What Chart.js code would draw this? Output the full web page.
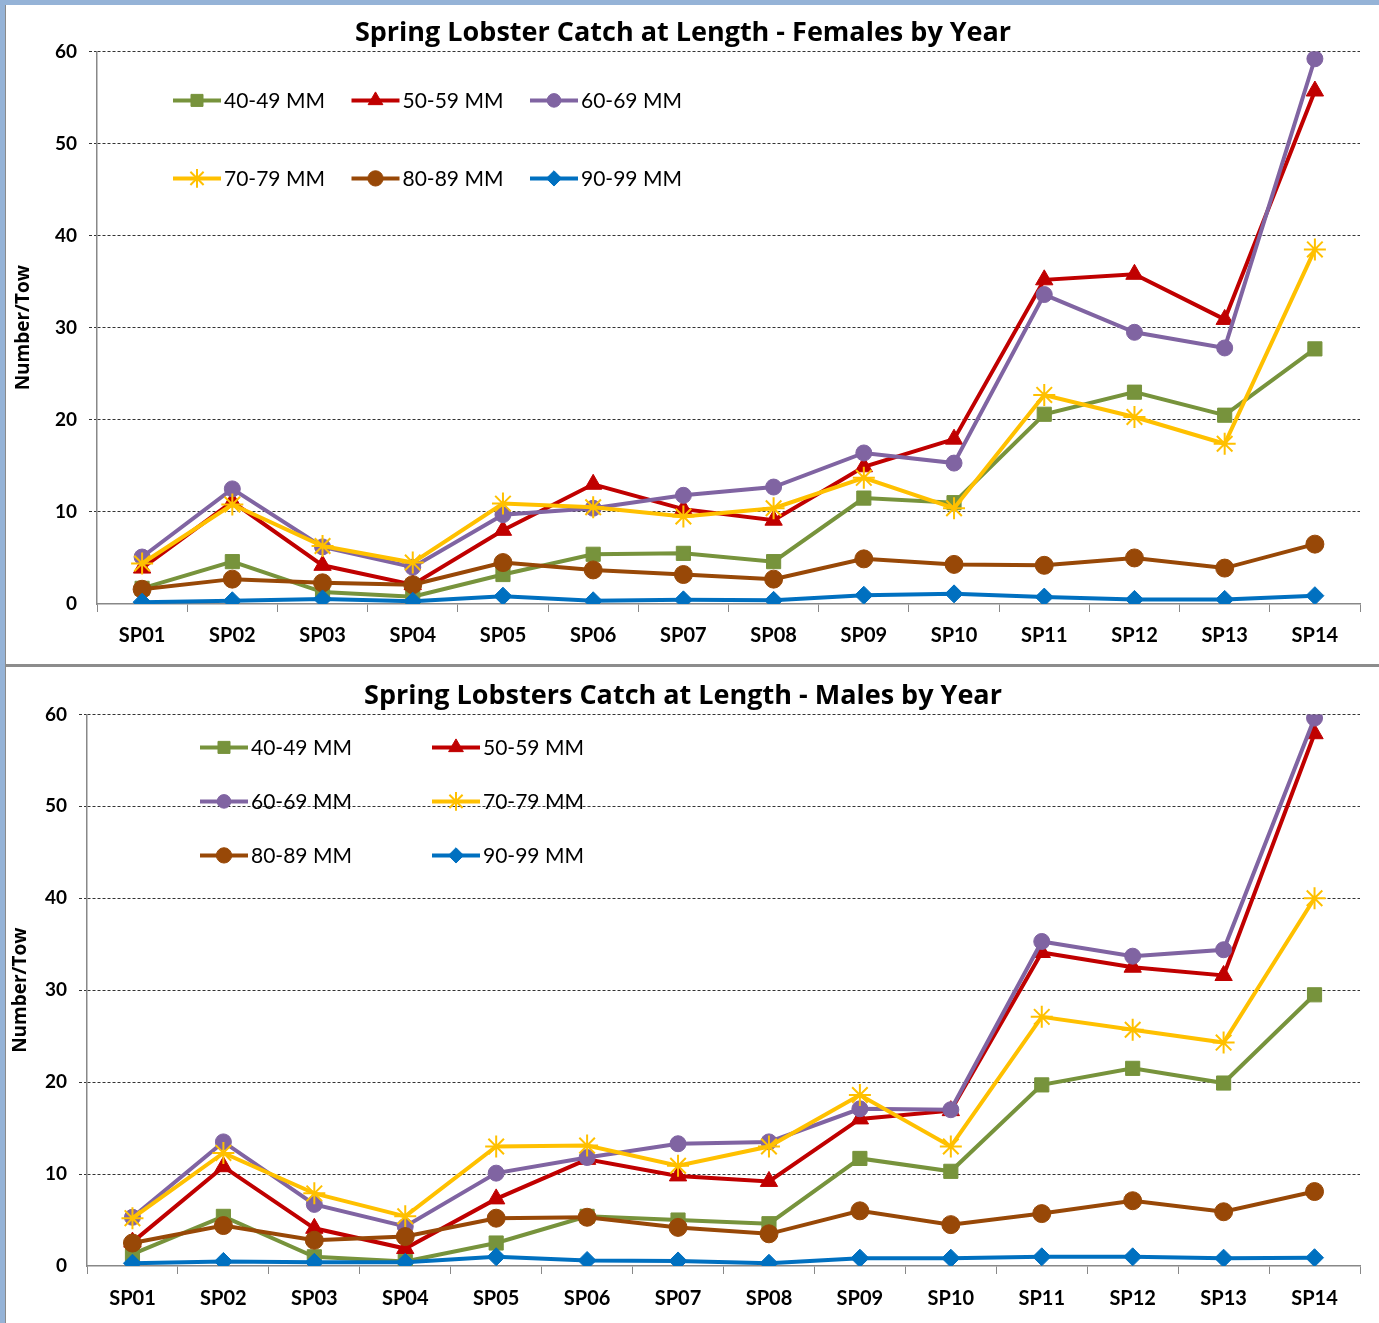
<!DOCTYPE html>
<html>
<head>
<meta charset="utf-8">
<script src="https://cdn.jsdelivr.net/npm/chart.js@4/dist/chart.umd.min.js"></script>
<style>
  html, body { margin: 0; padding: 0; }
  body { width: 1379px; height: 1323px; background: #95b3d7; position: relative; overflow: hidden; }
  .panel { position: absolute; left: 5px; width: 1374px; background: #fff; border-left: 1px solid #8a8a8a; box-sizing: border-box; }
  #top { top: 5px; height: 659px; }
  #sep { position: absolute; left: 5px; top: 664px; width: 1374px; height: 3px; background: #8c8c8c; }
  #bottom { top: 667px; height: 656px; }
  canvas { display: block; }
</style>
</head>
<body>
<div class="panel" id="top"><canvas id="females" width="1373" height="659"></canvas></div>
<div id="sep"></div>
<div class="panel" id="bottom"><canvas id="males" width="1373" height="656"></canvas></div>
<script>
// survey years on the x axis
var years = ['SP01','SP02','SP03','SP04','SP05','SP06','SP07','SP08','SP09','SP10','SP11','SP12','SP13','SP14'];
var sizeClasses = ['40-49 MM','50-59 MM','60-69 MM','70-79 MM','80-89 MM','90-99 MM'];
var yTicks = [0, 10, 20, 30, 40, 50, 60];

// females, number per tow
var fem40 = [1.7, 4.6, 1.3, 0.8, 3.2, 5.4, 5.5, 4.6, 11.5, 11.0, 20.6, 23.0, 20.5, 27.7];
var fem50 = [3.9, 11.1, 4.2, 2.1, 8.0, 13.0, 10.3, 9.1, 14.9, 17.9, 35.2, 35.8, 30.9, 55.7];
var fem60 = [5.1, 12.5, 6.2, 4.0, 9.7, 10.4, 11.8, 12.7, 16.4, 15.3, 33.6, 29.5, 27.8, 59.2];
var fem70 = [4.4, 10.8, 6.3, 4.5, 10.9, 10.5, 9.5, 10.4, 13.7, 10.4, 22.7, 20.3, 17.4, 38.5];
var fem80 = [1.6, 2.7, 2.3, 2.1, 4.5, 3.7, 3.2, 2.7, 4.9, 4.3, 4.2, 5.0, 3.9, 6.5];
var fem90 = [0.2, 0.35, 0.55, 0.3, 0.85, 0.35, 0.45, 0.4, 0.95, 1.1, 0.75, 0.5, 0.5, 0.9];

// males, number per tow
var mal40 = [1.3, 5.4, 1.0, 0.5, 2.5, 5.4, 5.0, 4.6, 11.7, 10.3, 19.7, 21.5, 19.9, 29.5];
var mal50 = [2.6, 10.8, 4.1, 1.9, 7.3, 11.6, 9.8, 9.2, 16.0, 16.9, 34.1, 32.5, 31.6, 57.9];
var mal60 = [5.3, 13.5, 6.7, 4.3, 10.1, 11.8, 13.3, 13.5, 17.1, 17.0, 35.3, 33.7, 34.4, 59.6];
var mal70 = [5.2, 12.3, 7.9, 5.4, 13.0, 13.1, 10.9, 13.0, 18.6, 13.0, 27.1, 25.7, 24.3, 40.0];
var mal80 = [2.5, 4.4, 2.8, 3.2, 5.2, 5.3, 4.2, 3.5, 6.0, 4.5, 5.7, 7.1, 5.9, 8.1];
var mal90 = [0.3, 0.5, 0.4, 0.4, 1.0, 0.6, 0.55, 0.3, 0.85, 0.85, 1.0, 1.0, 0.85, 0.9];

var colors = ['#77933c', '#c00000', '#8064a2', '#ffc000', '#984807', '#0070c0'];
var markers = ['rect', 'triangle', 'circle', 'star', 'circle', 'rectRot'];
var markerSize = [10, 10, 8, 11, 9, 9];

Chart.defaults.font.family = 'Lato, "Open Sans", sans-serif';
Chart.defaults.color = '#000';

function makeSets(series) {
	return series.map(function (vals, i) {
		return {
			label: sizeClasses[i],
			data: vals,
			borderColor: colors[i],
			backgroundColor: colors[i],
			pointBackgroundColor: colors[i],
			pointBorderColor: colors[i],
			pointStyle: markers[i],
			pointRadius: markerSize[i],
			pointBorderWidth: markers[i] == 'star' ? 2 : 1,
			borderWidth: 4,
			tension: 0,
			order: 5 - i  // later series on top, like the original
		};
	});
}

// legend drawn inside the plot area as a grid
var gridLegend = {
	id: 'gridLegend',
	afterDraw: function (chart, args, opts) {
		var ctx = chart.ctx, area = chart.chartArea;
		chart.data.datasets.forEach(function (ds, i) {
			var col = i % opts.cols, row = Math.floor(i / opts.cols);
			var x = area.left + opts.left + col * opts.colWidth;
			var y = area.top + opts.top + row * opts.rowHeight;
			ctx.save();
			ctx.strokeStyle = ds.borderColor;
			ctx.fillStyle = ds.backgroundColor;
			ctx.lineWidth = 4;
			ctx.beginPath();
			ctx.moveTo(x, y);
			ctx.lineTo(x + 48, y);
			ctx.stroke();
			ctx.lineWidth = ds.pointStyle == 'star' ? 2 : 1;
			Chart.helpers.drawPoint(ctx, { pointStyle: ds.pointStyle, radius: ds.pointRadius * 0.85, borderWidth: ctx.lineWidth, rotation: 0 }, x + 24, y);
			ctx.fillStyle = '#000';
			ctx.font = '21px Lato';
			ctx.textBaseline = 'middle';
			ctx.textAlign = 'left';
			ctx.fillText(ds.label, x + 51, y + 1);
			ctx.restore();
		});
	}
};

function generarLineChart(CANVAS_ID, TITLE, SERIES, LAYOUT) {
	var ctx = document.getElementById(CANVAS_ID).getContext('2d');
	return new Chart(ctx, {
		type: 'line',
		data: { labels: years, datasets: makeSets(SERIES) },
		plugins: [gridLegend],
		options: {
			responsive: false,
			animation: false,
			devicePixelRatio: 1,
			layout: { padding: { left: 0, right: 19, top: 0, bottom: 0 } },
			plugins: {
				legend: { display: false },
				tooltip: { enabled: false },
				title: {
					display: true,
					text: TITLE,
					font: { family: '"Open Sans", Lato, sans-serif', size: 27, weight: 'bold' },
					padding: { top: LAYOUT.titleTop, bottom: LAYOUT.titleBottom }
				},
				gridLegend: LAYOUT.legend
			},
			scales: {
				x: {
					offset: true,
					grid: { offset: true, drawOnChartArea: false, drawTicks: true, tickLength: 8, color: '#888' },
					border: { display: true, color: '#888', width: 1.5 },
					ticks: { font: { size: 20, weight: 'bold' }, padding: LAYOUT.xPad, maxRotation: 0 },
					afterFit: function (scale) { scale.height = LAYOUT.xHeight; }
				},
				y: {
					min: 0,
					max: 60,
					afterBuildTicks: function (scale) {
						scale.ticks = yTicks.map(function (v) { return { value: v }; });
					},
					grid: {
						color: function (c) { return c.tick && c.tick.value === 0 ? 'rgba(0,0,0,0)' : '#333'; },
						tickLength: 8,
						tickBorderDash: [3, 2],
						lineWidth: 1
					},
					border: { display: true, color: '#888', width: 1.5, dash: [3, 2] },
					ticks: { font: { size: 19, weight: 'bold' }, padding: 12 },
					title: {
						display: true,
						text: 'Number/Tow',
						font: { family: '"Open Sans", Lato, sans-serif', size: 19, weight: 'bold' },
						padding: { top: LAYOUT.yTitlePad, bottom: 0 }
					},
					afterFit: function (scale) { scale.width = LAYOUT.yWidth; }
				}
			}
		}
	});
}

generarLineChart('females', 'Spring Lobster Catch at Length - Females by Year',
	[fem40, fem50, fem60, fem70, fem80, fem90],
	{ titleTop: 12, titleBottom: 2, xHeight: 60, xPad: 12, yWidth: 91, yTitlePad: 6,
	  legend: { cols: 3, left: 76, top: 49, colWidth: 178.5, rowHeight: 78 } });

generarLineChart('males', 'Spring Lobsters Catch at Length - Males by Year',
	[mal40, mal50, mal60, mal70, mal80, mal90],
	{ titleTop: 13, titleBottom: 2, xHeight: 57, xPad: 13, yWidth: 81, yTitlePad: 3,
	  legend: { cols: 2, left: 113, top: 33, colWidth: 232, rowHeight: 54 } });
</script>
</body>
</html>
